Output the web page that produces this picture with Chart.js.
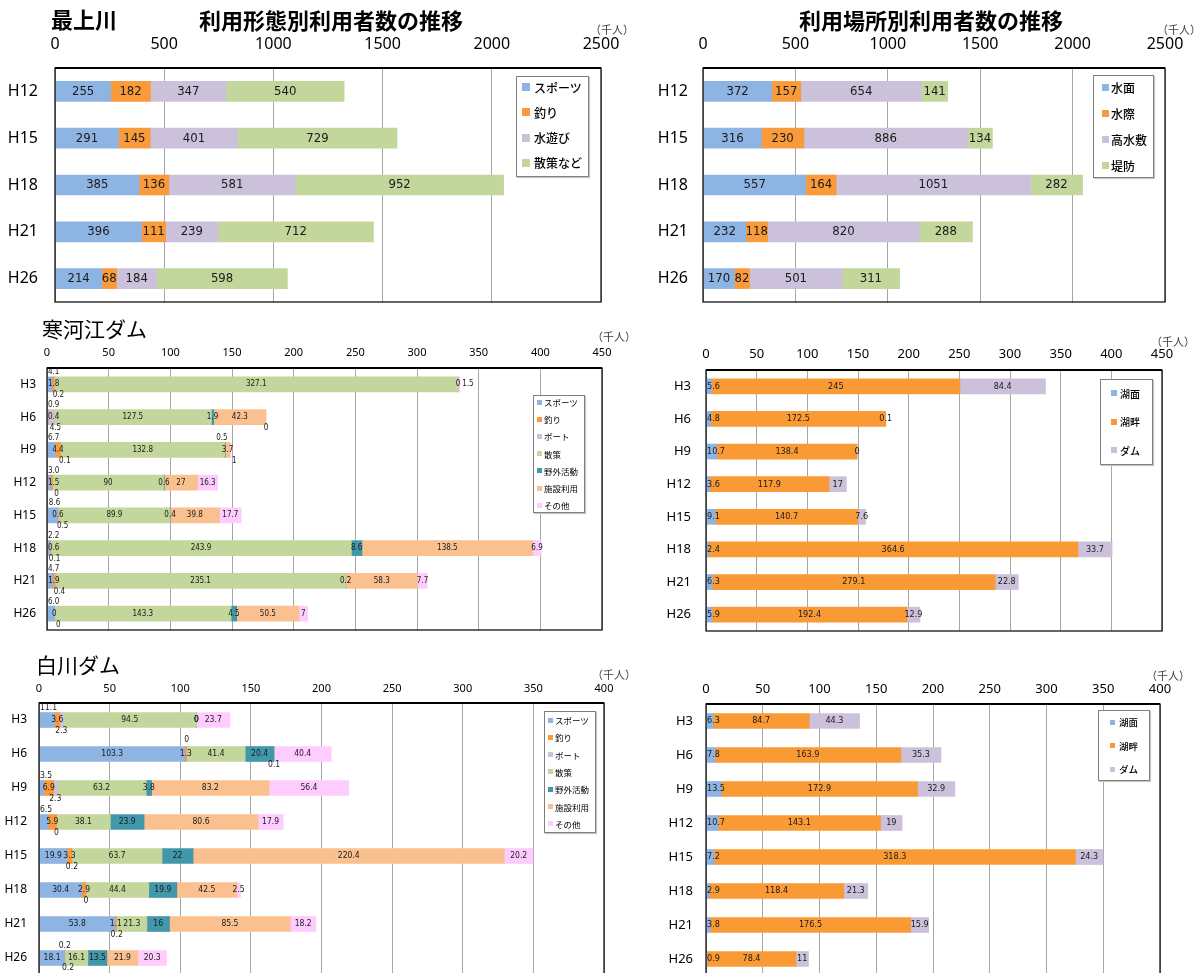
<!DOCTYPE html>
<html lang="ja">
<head>
<meta charset="utf-8">
<title>最上川・寒河江ダム・白川ダム 利用者数の推移</title>
<script src="https://cdn.jsdelivr.net/npm/chart.js@4.4.1/dist/chart.umd.min.js"></script>
<style>
  body { margin: 0; background: #fff; }
  #page { position: relative; width: 1203px; height: 973px; overflow: hidden; font-family: 'Noto Sans CJK JP', 'Noto Sans', sans-serif; }
  #page canvas { position: absolute; }
  .title { position: absolute; line-height: 1; white-space: nowrap; color: #000; z-index: 2; }
  .unit { position: absolute; font-size: 11px; color: #404040; line-height: 1; white-space: nowrap; z-index: 2; }
  .legend { position: absolute; border: 1px solid #7f7f7f; background: #fff; box-shadow: 1px 1px 1px #c8c8c8; z-index: 3; box-sizing: border-box; }
  .legend .row { position: absolute; display: flex; align-items: center; white-space: nowrap; color: #000; }
</style>
</head>
<body>
<div id="page">
  <div class="title" style="left:51px; top:7px; font-size:22px; font-weight:bold;">最上川</div>
  <div class="title" style="left:331px; top:8px; font-size:22px; font-weight:bold; transform:translateX(-50%);">利用形態別利用者数の推移</div>
  <div class="title" style="left:931px; top:8px; font-size:22px; font-weight:bold; transform:translateX(-50%);">利用場所別利用者数の推移</div>
  <div class="title" style="left:42px; top:318px; font-size:21px;">寒河江ダム</div>
  <div class="title" style="left:36px; top:654px; font-size:21px;">白川ダム</div>
  <div class="unit" style="left:590px; top:24px;">（千人）</div>
  <div class="unit" style="left:1157px; top:24px;">（千人）</div>
  <div class="unit" style="left:592px; top:331px;">（千人）</div>
  <div class="unit" style="left:1151px; top:336px;">（千人）</div>
  <div class="unit" style="left:592px; top:669px;">（千人）</div>
  <div class="unit" style="left:1146px; top:670px;">（千人）</div>
</div>
<script>

// ---- 最上川 (千人) ----
var mogamiYears = ['H12', 'H15', 'H18', 'H21', 'H26'];

var keitaiNames = ['スポーツ', '釣り', '水遊び', '散策など'];
var keitaiSports = [255, 291, 385, 396, 214];
var keitaiFishing = [182, 145, 136, 111, 68];
var keitaiWaterPlay = [347, 401, 581, 239, 184];
var keitaiWalk = [540, 729, 952, 712, 598];

var bashoNames = ['水面', '水際', '高水敷', '堤防'];
var bashoSurface = [372, 316, 557, 232, 170];
var bashoShore = [157, 230, 164, 118, 82];
var bashoFloodplain = [654, 886, 1051, 820, 501];
var bashoLevee = [141, 134, 282, 288, 311];

// ---- ダム (千人) ----
var damYears = ['H3', 'H6', 'H9', 'H12', 'H15', 'H18', 'H21', 'H26'];
var katsudoNames = ['スポーツ', '釣り', 'ボート', '散策', '野外活動', '施設利用', 'その他'];
var areaNames = ['湖面', '湖畔', 'ダム'];

// 寒河江ダム
var sagaeSports = [4.1, 0.9, 6.7, 3.0, 8.6, 2.2, 4.7, 6.0];
var sagaeFishing = [1.8, 0.4, 4.4, 1.5, 0.6, 0.6, 1.9, 0];
var sagaeBoat = [0.2, 4.5, 0.1, 0, 0.5, 0.1, 0.4, 0];
var sagaeWalk = [327.1, 127.5, 132.8, 90, 89.9, 243.9, 235.1, 143.3];
var sagaeOutdoor = [0, 1.9, 0.5, 0.6, 0.4, 8.6, 0.2, 4.5];
var sagaeFacility = [null, 42.3, 3.7, 27, 39.8, 138.5, 58.3, 50.5];
var sagaeOther = [1.5, 0, 1, 16.3, 17.7, 6.9, 7.7, 7];

var sagaeLake = [5.6, 4.8, 10.7, 3.6, 9.1, 2.4, 6.3, 5.9];
var sagaeLakeside = [245, 172.5, 138.4, 117.9, 140.7, 364.6, 279.1, 192.4];
var sagaeDam = [84.4, 0.1, 0, 17, 7.6, 33.7, 22.8, 12.9];

// 白川ダム
var shiraSports = [11.1, 103.3, 3.5, 6.5, 19.9, 30.4, 53.8, 18.1];
var shiraFishing = [3.6, 1.3, 6.9, 5.9, 3.3, 2.9, 1.1, 0.2];
var shiraBoat = [2.3, 0, 2.3, 0, 0.2, 0, 0.2, 0.2];
var shiraWalk = [94.5, 41.4, 63.2, 38.1, 63.7, 44.4, 21.3, 16.1];
var shiraOutdoor = [0, 20.4, 3.8, 23.9, 22, 19.9, 16, 13.5];
var shiraFacility = [0, 0.1, 83.2, 80.6, 220.4, 42.5, 85.5, 21.9];
var shiraOther = [23.7, 40.4, 56.4, 17.9, 20.2, 2.5, 18.2, 20.3];

var shiraLake = [6.3, 7.8, 13.5, 10.7, 7.2, 2.9, 3.8, 0.9];
var shiraLakeside = [84.7, 163.9, 172.9, 143.1, 318.3, 118.4, 176.5, 78.4];
var shiraDam = [44.3, 35.3, 32.9, 19, 24.3, 21.3, 15.9, 11];

var fourColors = ['#8EB4E3', '#F99B3B', '#CCC1DA', '#C3D69B'];
var katsudoColors = ['#8EB4E3', '#F99B3B', '#CCC1DA', '#C3D69B', '#4298AB', '#FAC08F', '#FFCCFF'];
var areaColors = ['#8EB4E3', '#FA9A35', '#CCC1DA'];

var page = document.getElementById('page');
var numFont = "'Liberation Sans Narrow', 'DejaVu Sans Condensed', 'Noto Sans', sans-serif";

Chart.defaults.font.family = "'Noto Sans', 'Noto Sans CJK JP', sans-serif";
Chart.defaults.color = '#000';

// labels in the middle of each segment (with a few nudged above / below)
var segLabels = {
	id: 'segLabels',
	afterDatasetsDraw: function(chart, args, opts) {
		var ctx = chart.ctx, area = chart.chartArea;
		ctx.save();
		ctx.font = opts.size + 'px ' + numFont;
		ctx.fillStyle = '#1a1a1a';
		ctx.textAlign = 'center';
		ctx.textBaseline = 'middle';
		chart.data.datasets.forEach(function(ds, di) {
			var meta = chart.getDatasetMeta(di);
			meta.data.forEach(function(bar, i) {
				var v = ds.data[i];
				if (v === null || v === undefined) return;
				var txt = opts.format ? opts.format(v, di) : String(v);
				var sh = (opts.shift && opts.shift[di + ':' + i]) || [0, 0];
				var w = ctx.measureText(txt).width;
				var x = (bar.x + bar.base) / 2 + sh[0];
				if (x - w / 2 < area.left + 1) x = area.left + 1 + w / 2;
				ctx.fillText(txt, x, bar.y + sh[1]);
			});
		});
		ctx.restore();
	}
};

var frame = {
	id: 'frame',
	afterDatasetsDraw: function(chart) {
		var a = chart.chartArea, ctx = chart.ctx;
		ctx.save();
		ctx.strokeStyle = '#000';
		ctx.lineWidth = 1.2;
		ctx.strokeRect(a.left, a.top, a.right - a.left, a.bottom - a.top);
		ctx.lineWidth = 2;
		ctx.beginPath();
		ctx.moveTo(a.left, a.top);
		ctx.lineTo(a.right, a.top);
		ctx.stroke();
		ctx.restore();
	}
};

Chart.register(frame, segLabels);

// keep the plot box exactly where it is in the picture
function noPad(s) {
	s.paddingTop = 0;
	s.paddingBottom = 0;
	s.paddingLeft = 0;
	s.paddingRight = 0;
}

function drawPanel(p) {
	var cv = document.createElement('canvas');
	cv.width = p.w;
	cv.height = p.h;
	cv.style.left = p.x + 'px';
	cv.style.top = p.y + 'px';
	page.appendChild(cv);

	var datasets = p.series.map(function(s, i) {
		return { label: p.names[i], data: s, backgroundColor: p.colors[i], barThickness: p.bar, borderWidth: 0 };
	});

	new Chart(cv, {
		type: 'bar',
		data: { labels: p.labels, datasets: datasets },
		options: {
			indexAxis: 'y',
			responsive: false,
			animation: false,
			layout: { padding: { top: 0, left: 0, right: p.x + p.w - p.R, bottom: p.y + p.h - p.B } },
			plugins: {
				legend: { display: false },
				tooltip: { enabled: false },
				segLabels: { size: p.labelSize, shift: p.shift, format: p.format }
			},
			scales: {
				x: {
					position: 'top',
					stacked: true,
					min: 0,
					max: p.max,
					ticks: {
						stepSize: p.step, padding: p.tickPad, font: { size: p.tickSize }, color: '#000',
						autoSkip: false, maxRotation: 0,
						callback: function(v) { return String(v); }
					},
					grid: { color: '#A6A6A6', drawTicks: false },
					border: { display: false },
					afterFit: function(s) { s.height = p.T - p.y; noPad(s); }
				},
				y: {
					stacked: true,
					ticks: { padding: p.catPad, font: { size: p.catSize }, color: '#000' },
					grid: { display: false, drawTicks: false },
					border: { display: false },
					afterFit: function(s) { s.width = p.L - p.x; noPad(s); }
				}
			}
		}
	});
}

function addLegend(b, names, colors) {
	var el = document.createElement('div');
	el.className = 'legend';
	el.style.left = b.x + 'px';
	el.style.top = b.y + 'px';
	el.style.width = b.w + 'px';
	el.style.height = b.h + 'px';
	var rowH = Math.round(b.font * 1.4);
	names.forEach(function(name, i) {
		var row = document.createElement('div');
		row.className = 'row';
		row.style.left = (b.sqX - b.x - 1) + 'px';
		row.style.top = (b.first + i * b.step - rowH / 2 - b.y - 1) + 'px';
		row.style.height = rowH + 'px';
		row.style.fontSize = b.font + 'px';
		row.style.fontWeight = b.weight || 'normal';
		row.innerHTML = '<span style="display:inline-block;width:' + b.sq + 'px;height:' + b.sq + 'px;background:' + colors[i] +
			';margin-right:' + b.gap + 'px"></span><span>' + name + '</span>';
		el.appendChild(row);
	});
	page.appendChild(el);
}

function shifts(list) {
	var m = {};
	list.forEach(function(s) { m[s[0]] = [s[1], s[2]]; });
	return m;
}

// 寒河江: sports label above, boat label below on every bar
var sagaeShiftList = [['6:0', 9, 0], ['6:1', 0, 11], ['4:2', -3, -12], ['6:2', 4, 11]];
damYears.forEach(function(y, i) {
	sagaeShiftList.push(['0:' + i, 2, -12]);
	sagaeShiftList.push(['2:' + i, 4, 11]);
});

var shiraShiftList = [
	['0:0', 0, -12], ['0:2', 0, -12], ['0:3', 0, -12],
	['2:0', 0, 11], ['2:1', 0, -14], ['2:2', 0, 11], ['2:3', 0, 11], ['2:4', 0, 11],
	['2:5', 0, 11], ['2:6', 0, 11], ['2:7', 3, 10], ['1:7', 0, -12], ['5:1', 0, 11]
];

drawPanel({
	x: 0, y: 30, w: 625, h: 280, L: 55, R: 601, T: 68, B: 302,
	labels: mogamiYears, names: keitaiNames, colors: fourColors,
	series: [keitaiSports, keitaiFishing, keitaiWaterPlay, keitaiWalk],
	max: 2500, step: 500, bar: 20, tickSize: 16, tickPad: 14, catSize: 16, catPad: 17, labelSize: 13
});

drawPanel({
	x: 640, y: 30, w: 563, h: 280, L: 703, R: 1165, T: 68, B: 302,
	labels: mogamiYears, names: bashoNames, colors: fourColors,
	series: [bashoSurface, bashoShore, bashoFloodplain, bashoLevee],
	max: 2500, step: 500, bar: 20, tickSize: 16, tickPad: 14, catSize: 16, catPad: 15, labelSize: 13
});

drawPanel({
	x: 0, y: 335, w: 625, h: 300, L: 47, R: 602, T: 368, B: 630,
	labels: damYears, names: katsudoNames, colors: katsudoColors,
	series: [sagaeSports, sagaeFishing, sagaeBoat, sagaeWalk, sagaeOutdoor, sagaeFacility, sagaeOther],
	max: 450, step: 50, bar: 15, tickSize: 11, tickPad: 9, catSize: 12, catPad: 11, labelSize: 8,
	shift: shifts(sagaeShiftList),
	format: function(v, di) { return di === 0 ? v.toFixed(1) : String(v); }
});

drawPanel({
	x: 640, y: 335, w: 563, h: 300, L: 706, R: 1162, T: 370, B: 631,
	labels: damYears, names: areaNames, colors: areaColors,
	series: [sagaeLake, sagaeLakeside, sagaeDam],
	max: 450, step: 50, bar: 15, tickSize: 13, tickPad: 8, catSize: 13, catPad: 15, labelSize: 9
});

drawPanel({
	x: 0, y: 670, w: 628, h: 310, L: 39, R: 604, T: 703, B: 975,
	labels: damYears, names: katsudoNames, colors: katsudoColors,
	series: [shiraSports, shiraFishing, shiraBoat, shiraWalk, shiraOutdoor, shiraFacility, shiraOther],
	max: 400, step: 50, bar: 15, tickSize: 11, tickPad: 8, catSize: 12, catPad: 12, labelSize: 8.5,
	shift: shifts(shiraShiftList)
});

drawPanel({
	x: 640, y: 670, w: 563, h: 310, L: 706, R: 1160, T: 704, B: 976,
	labels: damYears, names: areaNames, colors: areaColors,
	series: [shiraLake, shiraLakeside, shiraDam],
	max: 400, step: 50, bar: 15, tickSize: 13, tickPad: 7, catSize: 13, catPad: 13, labelSize: 9
});

addLegend({ x: 516, y: 76, w: 73, h: 101, sqX: 522, sq: 8, gap: 4, first: 87, step: 25.3, font: 12, weight: 500 }, keitaiNames, fourColors);
addLegend({ x: 1093, y: 75, w: 61, h: 103, sqX: 1102, sq: 7, gap: 2, first: 87, step: 26, font: 12, weight: 500 }, bashoNames, fourColors);
addLegend({ x: 533, y: 395, w: 52, h: 118, sqX: 537, sq: 5, gap: 2, first: 402, step: 17.2, font: 8.5 }, katsudoNames, katsudoColors);
addLegend({ x: 1100, y: 379, w: 53, h: 86, sqX: 1111, sq: 6, gap: 3, first: 393, step: 28.5, font: 10, weight: 500 }, areaNames, areaColors);
addLegend({ x: 544, y: 711, w: 52, h: 122, sqX: 548, sq: 5, gap: 2, first: 720, step: 17.3, font: 8.5 }, katsudoNames, katsudoColors);
addLegend({ x: 1098, y: 710, w: 52, h: 71, sqX: 1110, sq: 5, gap: 4, first: 722, step: 23.5, font: 9.5, weight: 500 }, areaNames, areaColors);

</script>
</body>
</html>
